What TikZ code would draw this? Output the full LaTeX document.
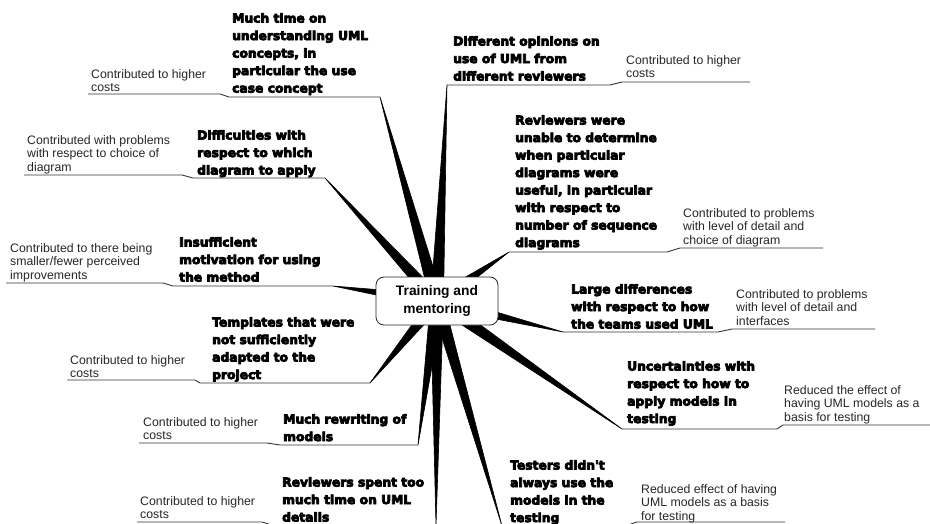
\documentclass[tikz,border=0pt]{standalone}
\usepackage{fontspec}
\setmainfont{Liberation Sans}
\newfontfamily\heavyfont{DejaVu Sans}[FakeBold=6,BoldFeatures={FakeBold=6}]
\usetikzlibrary{calc,backgrounds}

% tapered branch from the hub to a tip
\newcommand{\wedgeto}[1]{%
  \filldraw[wedge] ($(hub.center)!6.5pt!90:(#1)$) -- (#1) -- ($(hub.center)!6.5pt!-90:(#1)$) -- cycle;}

\begin{document}
\begin{tikzpicture}[
  x=1pt, y=-1pt,
  hubbox/.style={
    rectangle,
    rounded corners=8pt,
    draw=black!85,
    line width=0.8pt,
    fill=white,
    minimum width=122pt,
    minimum height=48pt,
    align=center,
    font=\bfseries\fontsize{13.8}{18}\selectfont
  },
  topic/.style={
    anchor=north west,
    inner sep=0pt,
    align=left,
    font=\heavyfont\bfseries\fontsize{12.3}{17.5}\selectfont
  },
  note/.style={
    anchor=north west,
    inner sep=0pt,
    align=left,
    text=black!85,
    font=\fontsize{12.3}{13.6}\selectfont
  },
  twig/.style={
    draw=black!80,
    line width=0.9pt
  },
  wedge/.style={
    fill=black,
    draw=black,
    line width=0.6pt,
    line join=round
  }
]
\useasboundingbox (0,0) rectangle (930,524);

% Central topic
\node[hubbox] (hub) at (437,301) {Training and\\mentoring};

% Branch tips
\coordinate (t1) at (380,97);
\coordinate (t2) at (447,85);
\coordinate (t3) at (509,252);
\coordinate (t4) at (325,178);
\coordinate (t5) at (333,286);
\coordinate (t6) at (370,383);
\coordinate (t7) at (418,445);
\coordinate (t8) at (436,526);
\coordinate (t9) at (563,332);
\coordinate (t10) at (622,429);
\coordinate (t11) at (502,526);

% Branches
\begin{pgfonlayer}{background}
\foreach \t in {t1,t2,t3,t4,t5,t6,t7,t8,t9,t10,t11}
  \wedgeto{\t};
\end{pgfonlayer}

% Subtopics
\node[topic] (k1) at (232,13) {Much time on\\understanding UML\\concepts, in\\particular the use\\case concept};
\node[topic] (k2) at (453,36) {Different opinions on\\use of UML from\\different reviewers};
\node[topic] (k3) at (515,115) {Reviewers were\\unable to determine\\when particular\\diagrams were\\useful, in particular\\with respect to\\number of sequence\\diagrams};
\node[topic] (k4) at (197,130) {Difficulties with\\respect to which\\diagram to apply};
\node[topic] (k5) at (179,237) {Insufficient\\motivation for using\\the method};
\node[topic] (k6) at (212,317) {Templates that were\\not sufficiently\\adapted to the\\project};
\node[topic] (k7) at (283,414) {Much rewriting of\\models};
\node[topic] (k8) at (282,477) {Reviewers spent too\\much time on UML\\details};
\node[topic] (k9) at (571,284) {Large differences\\with respect to how\\the teams used UML};
\node[topic] (k10) at (627,361) {Uncertainties with\\respect to how to\\apply models in\\testing};
\node[topic] (k11) at (510,460) {Testers didn't\\always use the\\models in the\\testing};

% Effects
\node[note] (n1) at (91,69) {Contributed to higher\\costs};
\node[note] (n2) at (626,55) {Contributed to higher\\costs};
\node[note] (n3) at (683,208) {Contributed to problems\\with level of detail and\\choice of diagram};
\node[note] (n4) at (27,135) {Contributed with problems\\with respect to choice of\\diagram};
\node[note] (n5) at (10,243) {Contributed to there being\\smaller/fewer perceived\\improvements};
\node[note] (n6) at (70,355) {Contributed to higher\\costs};
\node[note] (n7) at (143,417) {Contributed to higher\\costs};
\node[note] (n8) at (140,496) {Contributed to higher\\costs};
\node[note] (n9) at (736,289) {Contributed to problems\\with level of detail and\\interfaces};
\node[note] (n10) at (784,385) {Reduced the effect of\\having UML models as a\\basis for testing};
\node[note] (n11) at (641,484) {Reduced effect of having\\UML models as a basis\\for testing};

% Underlines
\draw[twig] (t1) -- ++(-151,0) -- ++(-9,-3) -- ++(-132,0);
\draw[twig] (t2) -- ++(163,0) -- ++(12,-3) -- ++(128,0);
\draw[twig] (t3) -- ++(158,0) -- ++(13,-4) -- ++(143,0);
\draw[twig] (t4) -- ++(-132,0) -- ++(-11,-3) -- ++(-158,0);
\draw[twig] (t5) -- ++(-160,0) -- ++(-10,-3) -- ++(-157,0);
\draw[twig] (t6) -- ++(-170,0) -- ++(-5,-3) -- ++(-128,0);
\draw[twig] (t7) -- ++(-138,0) -- ++(-13,-2) -- ++(-128,0);
\draw[twig] (t8) -- ++(-161,0) -- ++(-13,-4) -- ++(-125,0);
\draw[twig] (t9) -- ++(155,0) -- ++(14,-3) -- ++(143,0);
\draw[twig] (t10) -- ++(155,0) -- ++(6,-4) -- ++(147,0);
\draw[twig] (t11) -- ++(123,0) -- ++(12,-4) -- ++(148,0);

\end{tikzpicture}
\end{document}
